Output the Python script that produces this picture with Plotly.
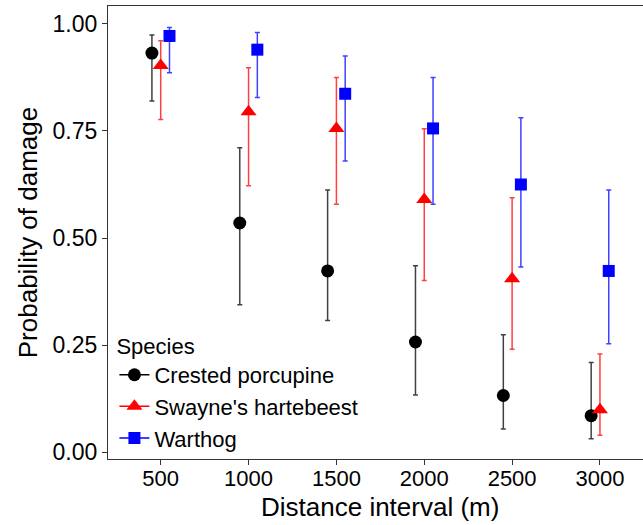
import plotly.graph_objects as go

distance = ["500", "1000", "1500", "2000", "2500", "3000"]

species = ["Crested porcupine", "Swayne's hartebeest", "Warthog"]

porcupine_p = [0.932, 0.535, 0.423, 0.257, 0.132, 0.085]
porcupine_lo = [0.820, 0.344, 0.307, 0.133, 0.054, 0.031]
porcupine_hi = [0.974, 0.711, 0.612, 0.435, 0.274, 0.209]

hartebeest_p = [0.903, 0.795, 0.756, 0.590, 0.405, 0.099]
hartebeest_lo = [0.777, 0.622, 0.579, 0.401, 0.240, 0.039]
hartebeest_hi = [0.961, 0.898, 0.875, 0.755, 0.594, 0.229]

warthog_p = [0.972, 0.940, 0.837, 0.756, 0.625, 0.423]
warthog_lo = [0.886, 0.828, 0.680, 0.579, 0.432, 0.253]
warthog_hi = [0.992, 0.980, 0.925, 0.875, 0.781, 0.612]

y_ticks = [0.0, 0.25, 0.5, 0.75, 1.0]
y_ticklabels = ["0.00", "0.25", "0.50", "0.75", "1.00"]

series = [
    (species[0], porcupine_p, porcupine_lo, porcupine_hi, "black", "rgba(0,0,0,0.75)", "circle", 13),
    (species[1], hartebeest_p, hartebeest_lo, hartebeest_hi, "red", "rgba(255,0,0,0.75)", "triangle-up", 14),
    (species[2], warthog_p, warthog_lo, warthog_hi, "blue", "rgba(0,0,255,0.75)", "square", 12),
]

FONT = "Liberation Sans, Arial, sans-serif"

fig = go.Figure()
for name, p, lo, hi, col, ecol, sym, sz in series:
    fig.add_trace(go.Scatter(
        x=distance, y=p, mode="markers", name=name,
        offsetgroup=name, showlegend=False,
        marker=dict(color=col, symbol=sym, size=sz, line=dict(width=0)),
        error_y=dict(type="data", symmetric=False,
                     array=[h - v for h, v in zip(hi, p)],
                     arrayminus=[v - l for v, l in zip(p, lo)],
                     color=ecol, thickness=1.5, width=2.5),
    ))
# legend-only entries (line through marker, like the ggplot key)
for name, p, lo, hi, col, ecol, sym, sz in series:
    fig.add_trace(go.Scatter(
        x=[None], y=[None], mode="lines+markers", name=name,
        marker=dict(color=col, symbol=sym, size=sz, line=dict(width=0)),
        line=dict(color=col, width=1.5), showlegend=True,
    ))

fig.update_layout(
    width=643, height=525,
    margin=dict(l=108, r=0, t=6, b=66),
    paper_bgcolor="white", plot_bgcolor="white",
    scattermode="group", scattergap=0.7,
    font=dict(family=FONT, size=22, color="black"),
    xaxis=dict(type="category", categoryorder="array", categoryarray=distance,
               range=[-0.6, 5.49], showgrid=False, zeroline=False,
               showline=True, linecolor="#333333", linewidth=1.2, mirror=True,
               ticks="outside", ticklen=5, tickcolor="#333333", tickwidth=1.2,
               ticklabelstandoff=-6,
               tickfont=dict(size=22, color="black")),
    yaxis=dict(range=[-0.0163, 1.042], tickvals=y_ticks, ticktext=y_ticklabels,
               showgrid=False, zeroline=False,
               showline=True, linecolor="#333333", linewidth=1.2,
               ticks="outside", ticklen=5, tickcolor="#333333", tickwidth=1.2,
               tickfont=dict(size=23, color="black")),
    legend=dict(x=0.012, y=0.295, xanchor="left", yanchor="top",
                bgcolor="rgba(255,255,255,0)", tracegroupgap=0,
                title=dict(text="Species", font=dict(size=22, family=FONT)),
                font=dict(size=22, family=FONT)),
    annotations=[
        dict(text="Distance interval (m)", xref="paper", yref="paper",
             x=0.508, y=-0.105, xanchor="center", yanchor="middle",
             showarrow=False, font=dict(size=26, family=FONT)),
        dict(text="Probability of damage", xref="paper", yref="paper",
             x=-0.15, y=0.5, xanchor="center", yanchor="middle", textangle=-90,
             showarrow=False, font=dict(size=26, family=FONT)),
    ],
)

fig.write_html("out.html", config={"displayModeBar": False},
               post_script="document.body.style.margin='0px';")
